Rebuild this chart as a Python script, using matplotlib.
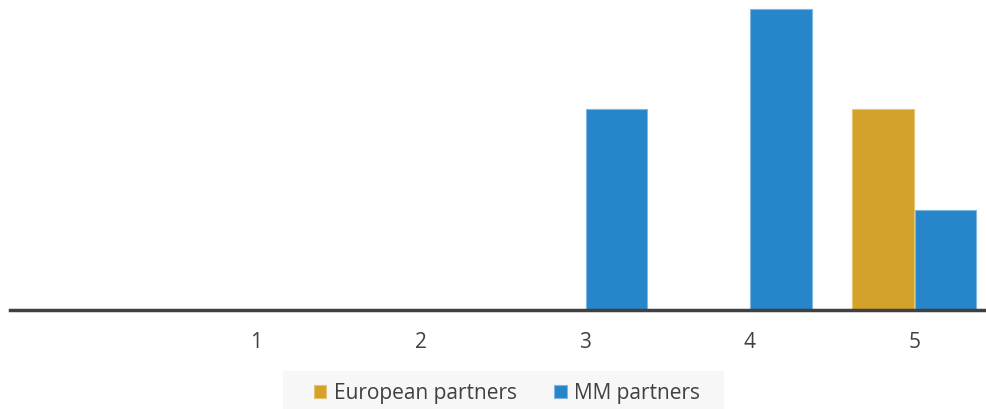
import matplotlib
matplotlib.use("Agg")
import matplotlib.pyplot as plt
from matplotlib.patches import Rectangle
import numpy as np

categories = ["", "1", "2", "3", "4", "5"]
european = [0, 0, 0, 0, 0, 2]
mm = [0, 0, 0, 2, 3, 1]

plt.rcParams['font.family'] = ['Open Sans', 'DejaVu Sans']

W, H = 986, 409
fig = plt.figure(figsize=(W / 100, H / 100), dpi=100)
left = 9.5 / W
ax = fig.add_axes([left, (H - 310) / H, 1 - left, 310 / H])

x = np.arange(len(categories))
bw = 0.375
off = 0.19
ax.bar(x - off, european, bw, color="#D4A22A", edgecolor="#E5C475", linewidth=0.8, label="European partners")
ax.bar(x + off, mm, bw, color="#2785C9", edgecolor="#7FB6E2", linewidth=0.8, label="MM partners")

ax.set_xlim(-0.5, -0.5 + 976.5 / 164.5)
ax.set_ylim(0, 3 + 9 / 100.3)
ax.set_xticks(x)
ax.set_xticklabels(categories, fontsize=15, color="#404040")
ax.tick_params(axis='x', length=0, pad=16)
ax.set_yticks([])
for s in ["top", "right", "left"]:
    ax.spines[s].set_visible(False)
ax.spines["bottom"].set_color("#404040")
ax.spines["bottom"].set_linewidth(2.5)

# legend background
fig.patches.append(Rectangle((283 / W, 0), (724 - 283) / W, (H - 371) / H,
                             transform=fig.transFigure, facecolor="#F7F7F7",
                             edgecolor="none", zorder=0))

leg = fig.legend(loc="center", bbox_to_anchor=(507 / W, 1 - 393 / H), ncol=2,
                 fontsize=15, frameon=False,
                 handlelength=0.6, handleheight=0.6, handletextpad=0.35,
                 columnspacing=1.8, borderpad=0.2, labelcolor="#404040")

fig.savefig("out.png", dpi=100)
